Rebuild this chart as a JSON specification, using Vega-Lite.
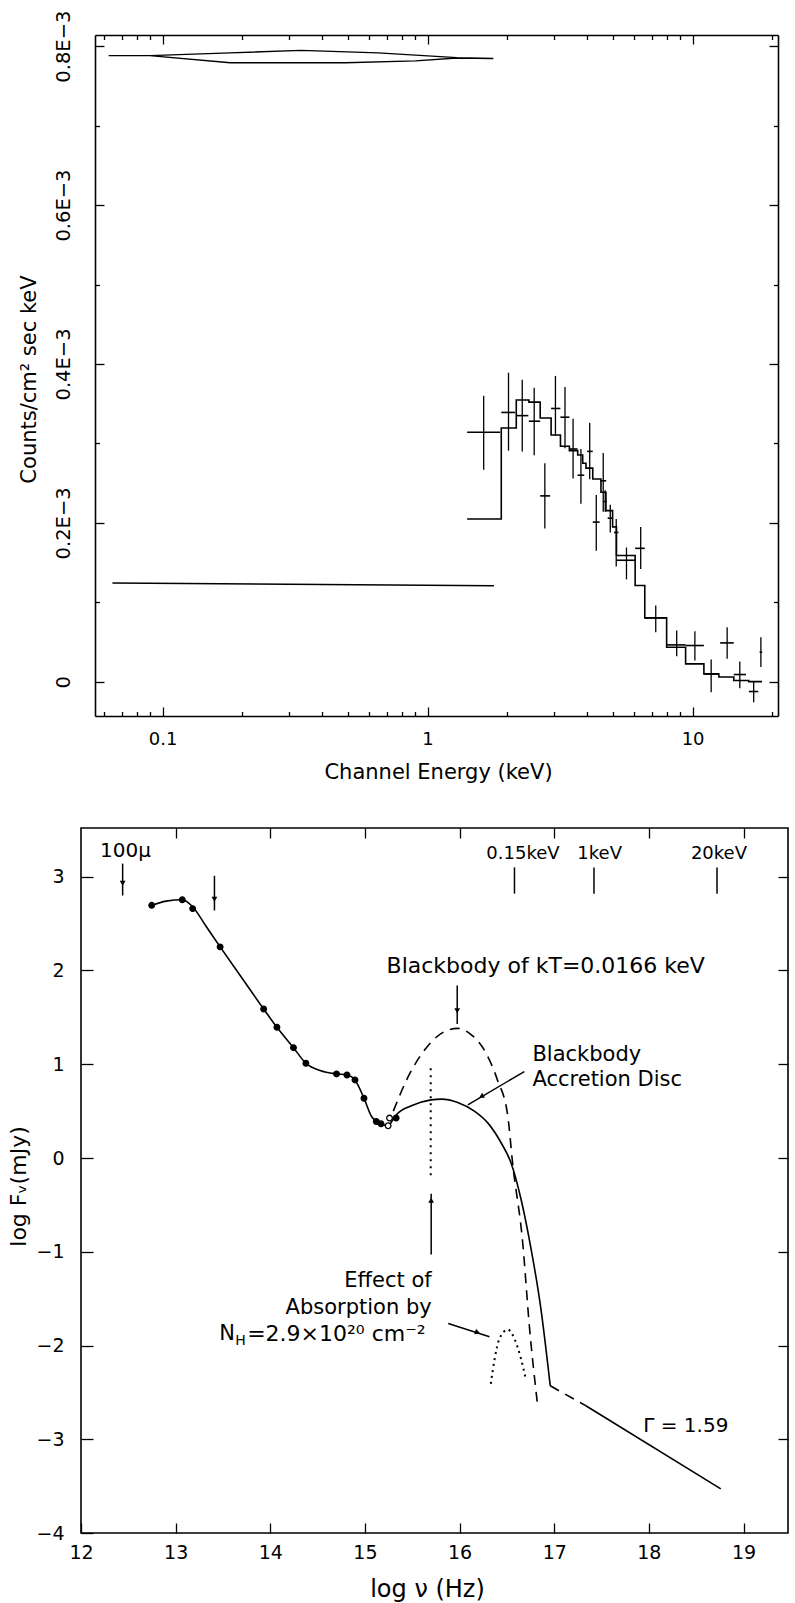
{
  "$schema": "https://vega.github.io/schema/vega-lite/v6.json",
  "background": "white",
  "padding": {"left": 6, "top": 10, "right": 2, "bottom": 2},
  "spacing": 17,
  "align": "all",
  "bounds": "full",
  "config": {
    "view": {"stroke": "black", "strokeWidth": 1.6},
    "axis": {
      "domain": false, "grid": false,
      "domainColor": "black", "domainWidth": 1.6,
      "tickColor": "black", "tickWidth": 1.3,
      "labelColor": "black", "titleColor": "black",
      "labelFont": "DejaVu Sans", "titleFont": "DejaVu Sans", "titleFontWeight": "normal",
      "labelFlush": false, "labelOverlap": false, "labelBound": false
    },
    "text": {"font": "DejaVu Sans", "color": "black"}
  },
  "datasets": {
    "model": [
      {"e": 1.41, "c": 0.000205}, {"e": 1.897, "c": 0.0003195}, {"e": 2.161, "c": 0.0003547},
      {"e": 2.412, "c": 0.000352}, {"e": 2.66, "c": 0.000332}, {"e": 2.925, "c": 0.0003107},
      {"e": 3.172, "c": 0.0002965}, {"e": 3.428, "c": 0.000291}, {"e": 3.685, "c": 0.0002855},
      {"e": 3.848, "c": 0.000275}, {"e": 3.96, "c": 0.000269}, {"e": 4.2, "c": 0.0002553},
      {"e": 4.51, "c": 0.0002386}, {"e": 4.71, "c": 0.0002155}, {"e": 4.99, "c": 0.000195},
      {"e": 5.16, "c": 0.000159}, {"e": 6.07, "c": 0.0001212}, {"e": 6.6, "c": 0.0000805},
      {"e": 7.98, "c": 0.0000436}, {"e": 9.41, "c": 0.0000226}, {"e": 11.03, "c": 0.00001},
      {"e": 12.56, "c": 0.000006}, {"e": 14.3, "c": 0.0000017}, {"e": 16.28, "c": 0.0000002},
      {"e": 18.28, "c": 0.0000002}
    ],
    "obs": [
      {"e": 1.628, "elo": 1.41, "ehi": 1.88, "c": 0.000314, "clo": 0.000267, "chi": 0.00036},
      {"e": 2.02, "elo": 1.897, "ehi": 2.14, "c": 0.000339, "clo": 0.000291, "chi": 0.000389},
      {"e": 2.276, "elo": 2.16, "ehi": 2.4, "c": 0.000335, "clo": 0.00029, "chi": 0.00038},
      {"e": 2.525, "elo": 2.41, "ehi": 2.66, "c": 0.000328, "clo": 0.000285, "chi": 0.00037},
      {"e": 2.77, "elo": 2.66, "ehi": 2.9, "c": 0.000234, "clo": 0.000193, "chi": 0.000275},
      {"e": 3.037, "elo": 2.925, "ehi": 3.17, "c": 0.000344, "clo": 0.00031, "chi": 0.000385},
      {"e": 3.3, "elo": 3.17, "ehi": 3.43, "c": 0.000333, "clo": 0.000294, "chi": 0.000371},
      {"e": 3.54, "elo": 3.43, "ehi": 3.68, "c": 0.000293, "clo": 0.000256, "chi": 0.000331},
      {"e": 3.79, "elo": 3.68, "ehi": 3.9, "c": 0.00026, "clo": 0.000224, "chi": 0.000293},
      {"e": 4.09, "elo": 4.0, "ehi": 4.2, "c": 0.00029, "clo": 0.000255, "chi": 0.000326},
      {"e": 4.33, "elo": 4.2, "ehi": 4.46, "c": 0.000201, "clo": 0.000165, "chi": 0.000235},
      {"e": 4.6, "elo": 4.48, "ehi": 4.72, "c": 0.000253, "clo": 0.000214, "chi": 0.000288},
      {"e": 4.68, "elo": 4.62, "ehi": 4.74, "c": 0.000227, "clo": 0.000214, "chi": 0.000241},
      {"e": 4.89, "elo": 4.78, "ehi": 5.0, "c": 0.000206, "clo": 0.000188, "chi": 0.000223},
      {"e": 5.15, "elo": 5.05, "ehi": 5.25, "c": 0.000188, "clo": 0.000145, "chi": 0.000205},
      {"e": 5.63, "elo": 5.16, "ehi": 6.07, "c": 0.000153, "clo": 0.000129, "chi": 0.000169},
      {"e": 6.37, "elo": 6.07, "ehi": 6.6, "c": 0.000168, "clo": 0.000142, "chi": 0.000195},
      {"e": 7.26, "elo": 6.6, "ehi": 7.98, "c": 0.0000805, "clo": 0.0000625, "chi": 0.000096},
      {"e": 8.71, "elo": 7.98, "ehi": 9.41, "c": 0.0000465, "clo": 0.0000323, "chi": 0.0000645},
      {"e": 10.2, "elo": 9.41, "ehi": 11.03, "c": 0.0000457, "clo": 0.0000268, "chi": 0.0000638},
      {"e": 11.75, "elo": 11.03, "ehi": 12.56, "c": 0.00001, "clo": -0.000013, "chi": 0.000028},
      {"e": 13.5, "elo": 12.7, "ehi": 14.3, "c": 0.000049, "clo": 0.0000289, "chi": 0.0000688},
      {"e": 15.07, "elo": 14.3, "ehi": 15.9, "c": 0.0000092, "clo": -0.000008, "chi": 0.0000255},
      {"e": 17.0, "elo": 16.3, "ehi": 17.7, "c": -0.0000122, "clo": -0.0000256, "chi": 0.0},
      {"e": 18.1, "elo": 17.9, "ehi": 18.3, "c": 0.0000373, "clo": 0.0000186, "chi": 0.0000562}
    ],
    "lens": [
      {"i": 0, "e": 0.0626, "c": 0.000788}, {"i": 1, "e": 0.0895, "c": 0.000788},
      {"i": 2, "e": 0.18, "c": 0.0007915}, {"i": 3, "e": 0.333, "c": 0.0007946},
      {"i": 4, "e": 0.65, "c": 0.0007915}, {"i": 5, "e": 1.29, "c": 0.0007855},
      {"i": 6, "e": 1.77, "c": 0.0007845}, {"i": 7, "e": 1.29, "c": 0.000785},
      {"i": 8, "e": 0.9, "c": 0.0007815}, {"i": 9, "e": 0.49, "c": 0.000779},
      {"i": 10, "e": 0.18, "c": 0.000779}, {"i": 11, "e": 0.0895, "c": 0.000788}
    ],
    "flat": [
      {"e": 0.0647, "c": 0.0001244}, {"e": 1.78, "c": 0.000121}
    ],
    "sed_curve": [
      {"v": 12.747, "f": 2.695}, {"v": 12.9, "f": 2.74}, {"v": 13.07, "f": 2.755},
      {"v": 13.18, "f": 2.68}, {"v": 13.316, "f": 2.48}, {"v": 13.47, "f": 2.252},
      {"v": 13.7, "f": 1.92}, {"v": 13.93, "f": 1.589}, {"v": 14.07, "f": 1.394},
      {"v": 14.245, "f": 1.177}, {"v": 14.376, "f": 1.01}, {"v": 14.526, "f": 0.933},
      {"v": 14.7, "f": 0.897}, {"v": 14.81, "f": 0.886}, {"v": 14.895, "f": 0.833},
      {"v": 14.99, "f": 0.638}, {"v": 15.07, "f": 0.443}, {"v": 15.12, "f": 0.39},
      {"v": 15.17, "f": 0.36}, {"v": 15.245, "f": 0.345}, {"v": 15.29, "f": 0.4},
      {"v": 15.333, "f": 0.461}, {"v": 15.49, "f": 0.557}, {"v": 15.7, "f": 0.62},
      {"v": 15.81, "f": 0.628}, {"v": 15.98, "f": 0.592}, {"v": 16.16, "f": 0.497},
      {"v": 16.3, "f": 0.372}, {"v": 16.44, "f": 0.16}, {"v": 16.544, "f": -0.053},
      {"v": 16.65, "f": -0.443}, {"v": 16.737, "f": -0.87}, {"v": 16.86, "f": -1.614},
      {"v": 16.958, "f": -2.43}
    ],
    "sed_pts": [
      {"v": 12.747, "f": 2.695, "kind": "filled"}, {"v": 13.07, "f": 2.755, "kind": "filled"},
      {"v": 13.18, "f": 2.66, "kind": "filled"}, {"v": 13.47, "f": 2.252, "kind": "filled"},
      {"v": 13.93, "f": 1.589, "kind": "filled"}, {"v": 14.07, "f": 1.394, "kind": "filled"},
      {"v": 14.245, "f": 1.177, "kind": "filled"}, {"v": 14.376, "f": 1.01, "kind": "filled"},
      {"v": 14.7, "f": 0.897, "kind": "filled"}, {"v": 14.81, "f": 0.886, "kind": "filled"},
      {"v": 14.895, "f": 0.833, "kind": "filled"}, {"v": 14.99, "f": 0.638, "kind": "filled"},
      {"v": 15.12, "f": 0.39, "kind": "filled"}, {"v": 15.17, "f": 0.365, "kind": "filled"},
      {"v": 15.245, "f": 0.344, "kind": "open"}, {"v": 15.26, "f": 0.426, "kind": "open"},
      {"v": 15.33, "f": 0.426, "kind": "filled"}
    ],
    "blackbody": [
      {"v": 15.3, "f": 0.5}, {"v": 15.44, "f": 0.833}, {"v": 15.63, "f": 1.152},
      {"v": 15.84, "f": 1.348}, {"v": 15.98, "f": 1.383}, {"v": 16.105, "f": 1.33},
      {"v": 16.28, "f": 1.117}, {"v": 16.4, "f": 0.833}, {"v": 16.51, "f": 0.443},
      {"v": 16.56, "f": -0.053}, {"v": 16.667, "f": -0.904}, {"v": 16.737, "f": -1.79},
      {"v": 16.82, "f": -2.6}
    ],
    "absorbed": [
      {"v": 16.33, "f": -2.41}, {"v": 16.37, "f": -2.146}, {"v": 16.42, "f": -1.93},
      {"v": 16.51, "f": -1.83}, {"v": 16.58, "f": -1.93}, {"v": 16.65, "f": -2.146},
      {"v": 16.7, "f": -2.36}
    ],
    "powerlaw": [{"v": 17.33, "f": -2.64, "v2": 18.76, "f2": -3.53}],
    "powerlaw_gap": [{"v": 16.958, "f": -2.43, "v2": 17.33, "f2": -2.64}],
    "lyman_limit": [{"v": 15.695, "f": 0.957, "v2": 15.695, "f2": -0.195}],
    "pointers": [
      {"v": 15.7, "f": -1.03, "v2": 15.7, "f2": -0.38},
      {"v": 15.975, "f": 1.84, "v2": 15.975, "f2": 1.43},
      {"v": 16.684, "f": 0.922, "v2": 16.087, "f2": 0.567},
      {"v": 15.88, "f": -1.766, "v2": 16.316, "f2": -1.907},
      {"v": 12.44, "f": 3.14, "v2": 12.44, "f2": 2.8},
      {"v": 13.41, "f": 3.01, "v2": 13.41, "f2": 2.64},
      {"v": 16.58, "f": 3.1, "v2": 16.58, "f2": 2.82},
      {"v": 17.42, "f": 3.1, "v2": 17.42, "f2": 2.82},
      {"v": 18.72, "f": 3.1, "v2": 18.72, "f2": 2.82}
    ],
    "heads_down": [{"v": 12.44, "f": 2.93}, {"v": 13.41, "f": 2.76}, {"v": 15.975, "f": 1.57}],
    "heads_up": [{"v": 15.7, "f": -0.45}],
    "head_disc": [{"v": 16.23, "f": 0.656}],
    "head_nh": [{"v": 16.19, "f": -1.86}],
    "note_bb": [{"v": 16.91, "f": 2.045, "label": "Blackbody of kT=0.0166 keV"}],
    "note_disc": [
      {"v": 16.77, "f": 1.1, "label": "Blackbody"},
      {"v": 16.77, "f": 0.833, "label": "Accretion Disc"}
    ],
    "note_abs": [
      {"v": 15.705, "f": -1.31, "label": "Effect of"},
      {"v": 15.705, "f": -1.6, "label": "Absorption by"}
    ],
    "note_nh": [
      {"v": 13.46, "f": -1.88, "part": "N"},
      {"v": 13.46, "f": -1.88, "part": "H"},
      {"v": 13.46, "f": -1.88, "part": "=2.9×10²⁰ cm⁻²"}
    ],
    "note_kev": [
      {"v": 16.67, "f": 3.245, "label": "0.15keV"},
      {"v": 17.48, "f": 3.245, "label": "1keV"},
      {"v": 18.74, "f": 3.245, "label": "20keV"}
    ],
    "note_misc": [
      {"v": 12.47, "f": 3.27, "label": "100μ"},
      {"v": 18.39, "f": -2.855, "label": "Γ = 1.59"}
    ]
  },
  "vconcat": [
    {
      "width": 697,
      "height": 681,
      "view": {"stroke": null},
      "resolve": {"axis": {"x": "independent", "y": "independent"}},
      "layer": [
        {
          "data": {"name": "model"},
          "mark": {"type": "line", "interpolate": "step-after", "color": "black", "strokeWidth": 1.6},
          "encoding": {
            "x": {"field": "e", "type": "quantitative",
              "scale": {"type": "log", "domain": [0.0556, 21], "range": [14, 697], "nice": false},
              "axis": {"orient": "bottom", "values": [0.1, 1, 10], "format": "~g", "tickSize": -9,
                "domain": true, "labelPadding": 23, "labelFontSize": 18,
                "title": "Channel Energy (keV)", "titleFontSize": 21,
                "titleX": 357, "titleY": 56, "titleBaseline": "middle"}},
            "y": {"field": "c", "type": "quantitative",
              "scale": {"domain": [-0.000043, 0.000814], "nice": false, "zero": false},
              "axis": {"orient": "left", "offset": -14, "domain": true,
                "values": [0, 0.0002, 0.0004, 0.0006, 0.0008],
                "labelExpr": "datum.value == 0 ? '0' : format(datum.value * 1000, '.1f') + 'E−3'",
                "labelAngle": 270, "labelAlign": "center", "labelBaseline": "middle",
                "tickSize": -9, "labelPadding": 41, "labelFontSize": 19.5,
                "title": "Counts/cm² sec keV", "titleFontSize": 21, "titleAngle": 270,
                "titleX": -66, "titleY": 344, "titleBaseline": "middle"}}
          }
        },
        {
          "data": {"name": "obs"},
          "mark": {"type": "rule", "color": "black", "strokeWidth": 1.3},
          "encoding": {
            "x": {"field": "e", "type": "quantitative",
              "scale": {"type": "log", "domain": [0.0556, 21], "range": [14, 697], "nice": false},
              "axis": {"orient": "top", "domain": true, "values": [0.1, 1, 10], "tickSize": -9, "labels": false, "title": null}},
            "y": {"field": "clo", "type": "quantitative",
              "scale": {"domain": [-0.000043, 0.000814], "nice": false, "zero": false},
              "axis": {"orient": "right", "domain": true, "values": [0, 0.0002, 0.0004, 0.0006, 0.0008], "tickSize": -9, "labels": false, "title": null}},
            "y2": {"field": "chi"}
          }
        },
        {
          "data": {"name": "obs"},
          "mark": {"type": "rule", "color": "black", "strokeWidth": 1.6},
          "encoding": {
            "x": {"field": "elo", "type": "quantitative",
              "scale": {"type": "log", "domain": [0.0556, 21], "range": [14, 697], "nice": false},
              "axis": {"orient": "bottom", "values": [0.06, 0.07, 0.08, 0.09, 0.2, 0.3, 0.4, 0.5, 0.6, 0.7, 0.8, 0.9, 2, 3, 4, 5, 6, 7, 8, 9, 20],
                "tickSize": -4.5, "labels": false, "title": null}},
            "x2": {"field": "ehi"},
            "y": {"field": "c", "type": "quantitative",
              "scale": {"domain": [-0.000043, 0.000814], "nice": false, "zero": false},
              "axis": {"orient": "left", "offset": -14, "values": [0.0001, 0.0003, 0.0005, 0.0007], "tickSize": -4.5, "labels": false, "title": null}}
          }
        },
        {
          "data": {"name": "lens"},
          "mark": {"type": "line", "color": "black", "strokeWidth": 1.4},
          "encoding": {
            "x": {"field": "e", "type": "quantitative",
              "scale": {"type": "log", "domain": [0.0556, 21], "range": [14, 697], "nice": false},
              "axis": {"orient": "top", "values": [0.06, 0.07, 0.08, 0.09, 0.2, 0.3, 0.4, 0.5, 0.6, 0.7, 0.8, 0.9, 2, 3, 4, 5, 6, 7, 8, 9, 20],
                "tickSize": -4.5, "labels": false, "title": null}},
            "y": {"field": "c", "type": "quantitative",
              "scale": {"domain": [-0.000043, 0.000814], "nice": false, "zero": false},
              "axis": {"orient": "right", "values": [0.0001, 0.0003, 0.0005, 0.0007], "tickSize": -4.5, "labels": false, "title": null}},
            "order": {"field": "i", "type": "quantitative"}
          }
        },
        {
          "data": {"name": "flat"},
          "mark": {"type": "line", "color": "black", "strokeWidth": 1.5},
          "encoding": {
            "x": {"field": "e", "type": "quantitative", "scale": {"type": "log", "domain": [0.0556, 21], "range": [14, 697], "nice": false}, "axis": null},
            "y": {"field": "c", "type": "quantitative", "scale": {"domain": [-0.000043, 0.000814], "nice": false, "zero": false}, "axis": null}
          }
        }
      ]
    },
    {
      "width": 707,
      "height": 705,
      "resolve": {"axis": {"x": "independent", "y": "independent"}},
      "layer": [
        {
          "data": {"name": "sed_curve"},
          "mark": {"type": "line", "interpolate": "monotone", "color": "black", "strokeWidth": 1.6},
          "encoding": {
            "x": {"field": "v", "type": "quantitative",
              "scale": {"domain": [12, 19.47], "nice": false, "zero": false},
              "axis": {"orient": "bottom", "values": [12, 13, 14, 15, 16, 17, 18, 19], "tickSize": -10,
                "labelPadding": 20, "labelFontSize": 19,
                "title": "log ν (Hz)", "titleFontSize": 24, "titleX": 346, "titleY": 56, "titleBaseline": "middle"}},
            "y": {"field": "f", "type": "quantitative",
              "scale": {"domain": [-4, 3.52], "nice": false, "zero": false},
              "axis": {"orient": "left", "values": [-4, -3, -2, -1, 0, 1, 2, 3], "tickSize": -12,
                "labelPadding": 29, "labelFontSize": 19,
                "title": "log Fᵥ(mJy)", "titleFontSize": 22, "titleAngle": 270,
                "titleX": -63, "titleY": 358, "titleBaseline": "middle"}}
          }
        },
        {
          "data": {"name": "sed_pts"},
          "mark": {"type": "point", "shape": "circle", "size": 32, "stroke": "black", "strokeWidth": 1.3, "opacity": 1},
          "encoding": {
            "x": {"field": "v", "type": "quantitative", "scale": {"domain": [12, 19.47], "nice": false, "zero": false},
              "axis": {"orient": "top", "values": [13, 14, 15, 16, 17, 18, 19], "tickSize": -10, "labels": false, "title": null}},
            "y": {"field": "f", "type": "quantitative", "scale": {"domain": [-4, 3.52], "nice": false, "zero": false},
              "axis": {"orient": "right", "values": [-3, -2, -1, 0, 1, 2, 3], "tickSize": -10, "labels": false, "title": null}},
            "fill": {"field": "kind", "type": "nominal", "scale": {"domain": ["filled", "open"], "range": ["black", "white"]}, "legend": null}
          }
        },
        {
          "data": {"name": "blackbody"},
          "mark": {"type": "line", "interpolate": "monotone", "color": "black", "strokeWidth": 1.6, "strokeDash": [10, 7]},
          "encoding": {
            "x": {"field": "v", "type": "quantitative", "scale": {"domain": [12, 19.47], "nice": false, "zero": false}, "axis": null},
            "y": {"field": "f", "type": "quantitative", "scale": {"domain": [-4, 3.52], "nice": false, "zero": false}, "axis": null}
          }
        },
        {
          "data": {"name": "absorbed"},
          "mark": {"type": "line", "interpolate": "monotone", "color": "black", "strokeWidth": 2, "strokeDash": [2, 4]},
          "encoding": {
            "x": {"field": "v", "type": "quantitative", "scale": {"domain": [12, 19.47], "nice": false, "zero": false}, "axis": null},
            "y": {"field": "f", "type": "quantitative", "scale": {"domain": [-4, 3.52], "nice": false, "zero": false}, "axis": null}
          }
        },
        {
          "data": {"name": "powerlaw"},
          "mark": {"type": "rule", "color": "black", "strokeWidth": 1.6},
          "encoding": {
            "x": {"field": "v", "type": "quantitative", "scale": {"domain": [12, 19.47], "nice": false, "zero": false}, "axis": null},
            "x2": {"field": "v2"},
            "y": {"field": "f", "type": "quantitative", "scale": {"domain": [-4, 3.52], "nice": false, "zero": false}, "axis": null},
            "y2": {"field": "f2"}
          }
        },
        {
          "data": {"name": "powerlaw_gap"},
          "mark": {"type": "rule", "color": "black", "strokeWidth": 1.6, "strokeDash": [10, 7]},
          "encoding": {
            "x": {"field": "v", "type": "quantitative", "scale": {"domain": [12, 19.47], "nice": false, "zero": false}, "axis": null},
            "x2": {"field": "v2"},
            "y": {"field": "f", "type": "quantitative", "scale": {"domain": [-4, 3.52], "nice": false, "zero": false}, "axis": null},
            "y2": {"field": "f2"}
          }
        },
        {
          "data": {"name": "lyman_limit"},
          "mark": {"type": "rule", "color": "black", "strokeWidth": 2, "strokeDash": [2, 5]},
          "encoding": {
            "x": {"field": "v", "type": "quantitative", "scale": {"domain": [12, 19.47], "nice": false, "zero": false}, "axis": null},
            "x2": {"field": "v2"},
            "y": {"field": "f", "type": "quantitative", "scale": {"domain": [-4, 3.52], "nice": false, "zero": false}, "axis": null},
            "y2": {"field": "f2"}
          }
        },
        {
          "data": {"name": "pointers"},
          "mark": {"type": "rule", "color": "black", "strokeWidth": 1.5},
          "encoding": {
            "x": {"field": "v", "type": "quantitative", "scale": {"domain": [12, 19.47], "nice": false, "zero": false}, "axis": null},
            "x2": {"field": "v2"},
            "y": {"field": "f", "type": "quantitative", "scale": {"domain": [-4, 3.52], "nice": false, "zero": false}, "axis": null},
            "y2": {"field": "f2"}
          }
        },
        {
          "data": {"name": "heads_down"},
          "mark": {"type": "point", "shape": "triangle-down", "size": 34, "filled": true, "color": "black", "opacity": 1},
          "encoding": {
            "x": {"field": "v", "type": "quantitative", "scale": {"domain": [12, 19.47], "nice": false, "zero": false}, "axis": null},
            "y": {"field": "f", "type": "quantitative", "scale": {"domain": [-4, 3.52], "nice": false, "zero": false}, "axis": null}
          }
        },
        {
          "data": {"name": "heads_up"},
          "mark": {"type": "point", "shape": "triangle-up", "size": 34, "filled": true, "color": "black", "opacity": 1},
          "encoding": {
            "x": {"field": "v", "type": "quantitative", "scale": {"domain": [12, 19.47], "nice": false, "zero": false}, "axis": null},
            "y": {"field": "f", "type": "quantitative", "scale": {"domain": [-4, 3.52], "nice": false, "zero": false}, "axis": null}
          }
        },
        {
          "data": {"name": "head_disc"},
          "mark": {"type": "point", "shape": "triangle-up", "size": 34, "filled": true, "color": "black", "opacity": 1, "angle": 240},
          "encoding": {
            "x": {"field": "v", "type": "quantitative", "scale": {"domain": [12, 19.47], "nice": false, "zero": false}, "axis": null},
            "y": {"field": "f", "type": "quantitative", "scale": {"domain": [-4, 3.52], "nice": false, "zero": false}, "axis": null}
          }
        },
        {
          "data": {"name": "head_nh"},
          "mark": {"type": "point", "shape": "triangle-up", "size": 34, "filled": true, "color": "black", "opacity": 1, "angle": 108},
          "encoding": {
            "x": {"field": "v", "type": "quantitative", "scale": {"domain": [12, 19.47], "nice": false, "zero": false}, "axis": null},
            "y": {"field": "f", "type": "quantitative", "scale": {"domain": [-4, 3.52], "nice": false, "zero": false}, "axis": null}
          }
        },
        {
          "data": {"name": "note_bb"},
          "mark": {"type": "text", "fontSize": 22, "align": "center", "baseline": "middle"},
          "encoding": {
            "x": {"field": "v", "type": "quantitative", "scale": {"domain": [12, 19.47], "nice": false, "zero": false}, "axis": null},
            "y": {"field": "f", "type": "quantitative", "scale": {"domain": [-4, 3.52], "nice": false, "zero": false}, "axis": null},
            "text": {"field": "label"}
          }
        },
        {
          "data": {"name": "note_disc"},
          "mark": {"type": "text", "fontSize": 21, "align": "left", "baseline": "middle"},
          "encoding": {
            "x": {"field": "v", "type": "quantitative", "scale": {"domain": [12, 19.47], "nice": false, "zero": false}, "axis": null},
            "y": {"field": "f", "type": "quantitative", "scale": {"domain": [-4, 3.52], "nice": false, "zero": false}, "axis": null},
            "text": {"field": "label"}
          }
        },
        {
          "data": {"name": "note_abs"},
          "mark": {"type": "text", "fontSize": 21, "align": "right", "baseline": "middle"},
          "encoding": {
            "x": {"field": "v", "type": "quantitative", "scale": {"domain": [12, 19.47], "nice": false, "zero": false}, "axis": null},
            "y": {"field": "f", "type": "quantitative", "scale": {"domain": [-4, 3.52], "nice": false, "zero": false}, "axis": null},
            "text": {"field": "label"}
          }
        },
        {
          "data": {"name": "note_nh"},
          "transform": [{"filter": "datum.part == 'N'"}],
          "mark": {"type": "text", "fontSize": 21, "align": "left", "baseline": "middle"},
          "encoding": {
            "x": {"field": "v", "type": "quantitative", "scale": {"domain": [12, 19.47], "nice": false, "zero": false}, "axis": null},
            "y": {"field": "f", "type": "quantitative", "scale": {"domain": [-4, 3.52], "nice": false, "zero": false}, "axis": null},
            "text": {"field": "part"}
          }
        },
        {
          "data": {"name": "note_nh"},
          "transform": [{"filter": "datum.part == 'H'"}],
          "mark": {"type": "text", "fontSize": 14, "align": "left", "baseline": "middle", "dx": 16, "dy": 7},
          "encoding": {
            "x": {"field": "v", "type": "quantitative", "scale": {"domain": [12, 19.47], "nice": false, "zero": false}, "axis": null},
            "y": {"field": "f", "type": "quantitative", "scale": {"domain": [-4, 3.52], "nice": false, "zero": false}, "axis": null},
            "text": {"field": "part"}
          }
        },
        {
          "data": {"name": "note_nh"},
          "transform": [{"filter": "datum.part != 'N' && datum.part != 'H'"}],
          "mark": {"type": "text", "fontSize": 22, "align": "left", "baseline": "middle", "dx": 28},
          "encoding": {
            "x": {"field": "v", "type": "quantitative", "scale": {"domain": [12, 19.47], "nice": false, "zero": false}, "axis": null},
            "y": {"field": "f", "type": "quantitative", "scale": {"domain": [-4, 3.52], "nice": false, "zero": false}, "axis": null},
            "text": {"field": "part"}
          }
        },
        {
          "data": {"name": "note_kev"},
          "mark": {"type": "text", "fontSize": 18, "align": "center", "baseline": "middle"},
          "encoding": {
            "x": {"field": "v", "type": "quantitative", "scale": {"domain": [12, 19.47], "nice": false, "zero": false}, "axis": null},
            "y": {"field": "f", "type": "quantitative", "scale": {"domain": [-4, 3.52], "nice": false, "zero": false}, "axis": null},
            "text": {"field": "label"}
          }
        },
        {
          "data": {"name": "note_misc"},
          "mark": {"type": "text", "fontSize": 20, "align": "center", "baseline": "middle"},
          "encoding": {
            "x": {"field": "v", "type": "quantitative", "scale": {"domain": [12, 19.47], "nice": false, "zero": false}, "axis": null},
            "y": {"field": "f", "type": "quantitative", "scale": {"domain": [-4, 3.52], "nice": false, "zero": false}, "axis": null},
            "text": {"field": "label"}
          }
        }
      ]
    }
  ]
}
